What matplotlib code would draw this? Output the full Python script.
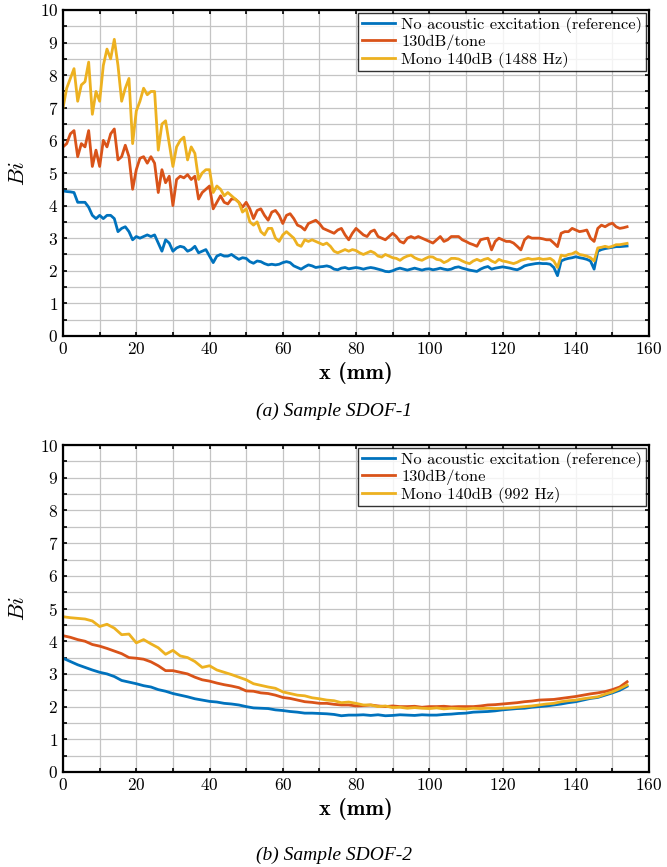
"""
Bi distribution along x for SDOF-1 and SDOF-2 samples
"""

import numpy as np
import matplotlib
matplotlib.use('Agg')
import matplotlib.pyplot as plt
from matplotlib.ticker import MultipleLocator

plt.rcParams['font.family'] = ['cmr10', 'DejaVu Serif']
plt.rcParams['mathtext.fontset'] = 'cm'
plt.rcParams['axes.formatter.use_mathtext'] = True

# Sample SDOF-1, x every 1 mm
x1 = np.arange(0, 155, 1)
ref1 = [4.45, 4.43, 4.42, 4.40, 4.10, 4.10, 4.10, 3.95, 3.70, 3.60,
        3.70, 3.60, 3.70, 3.70, 3.60, 3.20, 3.30, 3.35, 3.20, 2.95,
        3.05, 3.00, 3.05, 3.10, 3.05, 3.10, 2.85, 2.60, 2.95, 2.85,
        2.60, 2.70, 2.75, 2.72, 2.60, 2.65, 2.75, 2.55, 2.60, 2.65,
        2.45, 2.25, 2.45, 2.50, 2.45, 2.45, 2.50, 2.42, 2.35, 2.40,
        2.38, 2.28, 2.23, 2.30, 2.28, 2.22, 2.18, 2.20, 2.18, 2.20,
        2.25, 2.28, 2.25, 2.15, 2.10, 2.05, 2.12, 2.18, 2.15, 2.10,
        2.12, 2.13, 2.15, 2.12, 2.05, 2.03, 2.08, 2.10, 2.06, 2.08,
        2.10, 2.08, 2.05, 2.08, 2.10, 2.08, 2.05, 2.02, 1.98, 1.97,
        2.00, 2.05, 2.08, 2.05, 2.02, 2.05, 2.08, 2.05, 2.02, 2.05,
        2.06, 2.03, 2.05, 2.08, 2.05, 2.03, 2.05, 2.10, 2.12, 2.08,
        2.05, 2.02, 2.00, 1.98, 2.05, 2.10, 2.13, 2.05, 2.08, 2.10,
        2.12, 2.10, 2.08, 2.05, 2.03, 2.08, 2.15, 2.18, 2.20, 2.22,
        2.23, 2.22, 2.22, 2.20, 2.10, 1.85, 2.30, 2.35, 2.38, 2.40,
        2.43, 2.40, 2.38, 2.35, 2.30, 2.05, 2.60, 2.65, 2.68, 2.70,
        2.72, 2.74, 2.74, 2.75, 2.76]
tone1 = [5.80, 5.90, 6.20, 6.30, 5.50, 5.90, 5.80, 6.30, 5.20, 5.70,
         5.20, 6.00, 5.80, 6.20, 6.35, 5.40, 5.50, 5.85, 5.50, 4.50,
         5.10, 5.45, 5.50, 5.30, 5.50, 5.30, 4.40, 5.10, 4.70, 4.90,
         4.00, 4.80, 4.90, 4.85, 4.95, 4.80, 4.90, 4.20, 4.40, 4.50,
         4.60, 3.90, 4.10, 4.30, 4.10, 4.05, 4.20, 4.20, 4.10, 3.95,
         4.10, 3.90, 3.60, 3.85, 3.90, 3.70, 3.55, 3.80, 3.85, 3.70,
         3.45, 3.70, 3.75, 3.60, 3.40, 3.35, 3.25, 3.45, 3.50, 3.55,
         3.45, 3.30, 3.25, 3.20, 3.15, 3.25, 3.30, 3.10, 2.95, 3.15,
         3.30, 3.20, 3.10, 3.05, 3.20, 3.25, 3.05, 3.00, 2.95, 3.05,
         3.15, 3.05, 2.90, 2.85, 3.00, 3.05, 3.00, 3.05, 3.00, 2.95,
         2.90, 2.85, 2.95, 3.05, 2.90, 2.95, 3.05, 3.05, 3.05, 2.95,
         2.90, 2.84, 2.80, 2.75, 2.95, 2.98, 3.00, 2.64, 2.90, 3.00,
         2.95, 2.90, 2.90, 2.85, 2.75, 2.64, 2.95, 3.05, 3.00, 3.00,
         3.00, 2.98, 2.95, 2.95, 2.85, 2.74, 3.15, 3.20, 3.20, 3.30,
         3.25, 3.20, 3.22, 3.25, 3.00, 2.90, 3.30, 3.40, 3.35, 3.42,
         3.46, 3.35, 3.30, 3.32, 3.35]
mono1 = [7.00, 7.60, 7.90, 8.20, 7.20, 7.70, 7.80, 8.40, 6.80, 7.50,
         7.20, 8.30, 8.80, 8.50, 9.10, 8.30, 7.20, 7.60, 7.90, 5.90,
         6.90, 7.20, 7.60, 7.40, 7.50, 7.50, 5.70, 6.50, 6.60, 5.90,
         5.20, 5.80, 6.00, 6.10, 5.40, 5.80, 5.60, 4.80, 5.00, 5.10,
         5.10, 4.40, 4.60, 4.50, 4.30, 4.40, 4.30, 4.20, 4.10, 3.80,
         3.90, 3.50, 3.40, 3.50, 3.20, 3.10, 3.30, 3.30, 3.00, 2.90,
         3.10, 3.20, 3.10, 3.00, 2.80, 2.75, 2.95, 2.90, 2.95, 2.90,
         2.85, 2.80, 2.85, 2.75, 2.60, 2.55, 2.60, 2.65, 2.60, 2.65,
         2.62, 2.55, 2.50, 2.55, 2.60, 2.55, 2.45, 2.42, 2.50, 2.45,
         2.40, 2.38, 2.32, 2.40, 2.45, 2.48, 2.40, 2.35, 2.32, 2.38,
         2.43, 2.42, 2.35, 2.33, 2.25, 2.30, 2.38, 2.38, 2.36, 2.30,
         2.25, 2.22, 2.30, 2.35, 2.30, 2.35, 2.38, 2.30, 2.25, 2.35,
         2.30, 2.28, 2.25, 2.22, 2.26, 2.32, 2.35, 2.38, 2.35, 2.36,
         2.38, 2.35, 2.36, 2.38, 2.30, 2.10, 2.48, 2.45, 2.50, 2.52,
         2.58, 2.50, 2.48, 2.45, 2.40, 2.30, 2.70, 2.72, 2.75, 2.72,
         2.75, 2.80, 2.80, 2.82, 2.84]

# Sample SDOF-2, x every 2 mm
x2 = np.arange(0, 155, 2)
ref2 = [3.48, 3.38, 3.28, 3.20, 3.12, 3.05, 3.00, 2.92, 2.80, 2.75,
        2.70, 2.64, 2.60, 2.52, 2.47, 2.40, 2.35, 2.30, 2.24, 2.20,
        2.16, 2.14, 2.10, 2.08, 2.05, 2.00, 1.96, 1.95, 1.94, 1.90,
        1.88, 1.85, 1.83, 1.80, 1.80, 1.79, 1.78, 1.76, 1.72, 1.74,
        1.74, 1.75, 1.73, 1.75, 1.72, 1.73, 1.75, 1.74, 1.73, 1.75,
        1.74, 1.74, 1.76, 1.77, 1.79, 1.80, 1.83, 1.84, 1.85, 1.87,
        1.90, 1.92, 1.94, 1.95, 1.98, 2.00, 2.02, 2.05, 2.08, 2.12,
        2.15, 2.20, 2.25, 2.28, 2.35, 2.42, 2.50, 2.62]
tone2 = [4.17, 4.12, 4.05, 4.00, 3.90, 3.85, 3.78, 3.70, 3.62, 3.50,
         3.48, 3.45, 3.37, 3.25, 3.10, 3.10, 3.05, 3.00, 2.90, 2.82,
         2.78, 2.72, 2.67, 2.63, 2.58, 2.48, 2.47, 2.42, 2.40, 2.35,
         2.28, 2.25, 2.20, 2.15, 2.13, 2.10, 2.10, 2.07, 2.05, 2.05,
         2.02, 2.03, 2.05, 2.02, 2.00, 2.02, 2.00, 2.00, 2.01, 1.98,
         2.00, 2.00, 2.01, 1.99, 2.00, 2.00, 2.00, 2.02, 2.05, 2.06,
         2.08, 2.10, 2.12, 2.15, 2.17, 2.20, 2.21, 2.22, 2.25, 2.28,
         2.31, 2.35, 2.39, 2.42, 2.46, 2.52, 2.60, 2.76]
mono2 = [4.75, 4.72, 4.70, 4.68, 4.62, 4.45, 4.52, 4.40, 4.20, 4.22,
         3.95, 4.05, 3.92, 3.80, 3.60, 3.72, 3.55, 3.50, 3.38, 3.20,
         3.25, 3.12, 3.05, 2.98, 2.90, 2.82, 2.70, 2.65, 2.60, 2.56,
         2.45, 2.40, 2.35, 2.33, 2.27, 2.24, 2.20, 2.18, 2.12, 2.14,
         2.10, 2.05, 2.05, 2.00, 2.02, 1.97, 1.98, 1.95, 1.97, 1.95,
         1.94, 1.96, 1.93, 1.95, 1.94, 1.93, 1.95, 1.94, 1.95, 1.94,
         1.95, 1.96, 1.98, 2.00, 2.02, 2.05, 2.08, 2.10, 2.15, 2.18,
         2.20, 2.24, 2.27, 2.30, 2.38, 2.45, 2.55, 2.66]

labels_a = ['No acoustic excitation (reference)', '130dB/tone', 'Mono 140dB (1488 Hz)']
labels_b = ['No acoustic excitation (reference)', '130dB/tone', 'Mono 140dB (992 Hz)']
colors = ['#0072BD', '#D95319', '#EDB120']


def draw_panel(ax, x, series, labels):
    for y, lab, c in zip(series, labels, colors):
        ax.plot(x, y, color=c, linewidth=2.0, label=lab)
    ax.set_xlim(0, 160)
    ax.set_ylim(0, 10)
    ax.xaxis.set_major_locator(MultipleLocator(20))
    ax.xaxis.set_minor_locator(MultipleLocator(10))
    ax.yaxis.set_major_locator(MultipleLocator(1))
    ax.yaxis.set_minor_locator(MultipleLocator(0.5))
    ax.grid(True, which='both', color='#c4c4c4', linewidth=0.9)
    ax.set_axisbelow(True)
    ax.tick_params(which='both', direction='in', top=True, right=True,
                   width=1.2, colors='black', labelsize=12.5)
    ax.tick_params(which='major', length=3)
    ax.tick_params(which='minor', length=3)
    for s in ax.spines.values():
        s.set_linewidth(1.6)
    ax.set_xlabel('x (mm)', fontsize=16, family=['cmb10', 'DejaVu Serif'], labelpad=4)
    ax.set_ylabel('$Bi$', fontsize=16, labelpad=8)
    leg = ax.legend(loc='upper right', fontsize=11.8, frameon=True, fancybox=False,
                    edgecolor='black', handlelength=2.0, handletextpad=0.4,
                    borderpad=0.22, labelspacing=0.1, borderaxespad=0.2)
    leg.get_frame().set_linewidth(1.0)


fig = plt.figure(figsize=(6.67, 8.67), dpi=100)
ax1 = fig.add_axes([0.0945, 0.6125, 0.8786, 0.376])
ax2 = fig.add_axes([0.0945, 0.1096, 0.8786, 0.377])

draw_panel(ax1, x1, [ref1, tone1, mono1], labels_a)
draw_panel(ax2, x2, [ref2, tone2, mono2], labels_b)

fig.text(0.5, 1 - 411 / 867, '(a) Sample SDOF-1', ha='center', va='center',
         fontsize=14, style='italic', family='Liberation Serif')
fig.text(0.5, 1 - 855 / 867, '(b) Sample SDOF-2', ha='center', va='center',
         fontsize=14, style='italic', family='Liberation Serif')

fig.savefig('out.png', dpi=100)
